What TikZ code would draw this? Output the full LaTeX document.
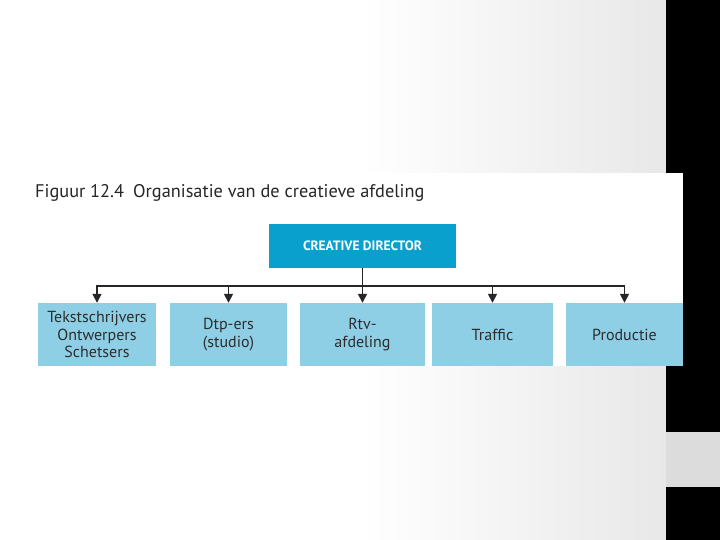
\documentclass[tikz,border=0pt]{standalone}
\usepackage{fontspec}
\setmainfont{PT Sans}
\definecolor{darkcyan}{RGB}{10,160,206}
\definecolor{lightcyan}{RGB}{142,207,230}
\definecolor{textgray}{RGB}{45,45,45}
\definecolor{barpatch}{RGB}{220,220,220}
\usetikzlibrary{arrows.meta, positioning}

\begin{document}
\begin{tikzpicture}[x=1pt,y=-1pt,
    topbox/.style={rectangle, fill=darkcyan, minimum width=187pt, minimum height=44pt,
                   inner sep=0pt, text=white, font=\fontsize{13.5}{15}\selectfont\bfseries},
    unit/.style={rectangle, fill=lightcyan, minimum height=63pt, inner sep=0pt,
                 align=center, text=textgray, font=\fontsize{16}{17.5}\selectfont},
    arr/.style={-{Triangle[length=9pt,width=9pt]}, line width=1.6pt, black!85}
  ]
  % slide background
  \useasboundingbox (0,0) rectangle (720,540);
  \fill[white] (0,0) rectangle (720,540);
  \shade[left color=white, right color=black!9, shading angle=90] (360,0) rectangle (666,540);
  \fill[black] (666,0) rectangle (720,540);
  \fill[barpatch] (666,432) rectangle (720,487);
  % figure panel
  \fill[white] (25,173) rectangle (683,366);

  \node[anchor=base west, inner sep=0pt, font=\fontsize{18.3}{20}\selectfont, text=black!85] (title) at (35,197)
    {Figuur 12.4\enspace Organisatie van de creatieve afdeling};

  \node[topbox] (director) at (362.5,246) {CREATIVE DIRECTOR};

  \node[unit, minimum width=118pt] (tekst) at (97,334.5) {Tekstschrijvers\\Ontwerpers\\Schetsers};
  \node[unit, minimum width=117pt] (dtp) at (228.5,334.5) {Dtp-ers\\(studio)};
  \node[unit, minimum width=125pt] (rtv) at (362.5,334.5) {Rtv-\\afdeling};
  \node[unit, minimum width=121pt] (traffic) at (492.5,334.5) {Traffic};
  \node[unit, minimum width=117pt] (productie) at (624.5,334.5) {Productie};

  \draw[arr] (director.south) -- (rtv.north);
  \draw[arr] (director.south) -- ++(0,18) -| (tekst.north);
  \draw[arr] (director.south) -- ++(0,18) -| (dtp.north);
  \draw[arr] (director.south) -- ++(0,18) -| (traffic.north);
  \draw[arr] (director.south) -- ++(0,18) -| (productie.north);
\end{tikzpicture}
\end{document}
